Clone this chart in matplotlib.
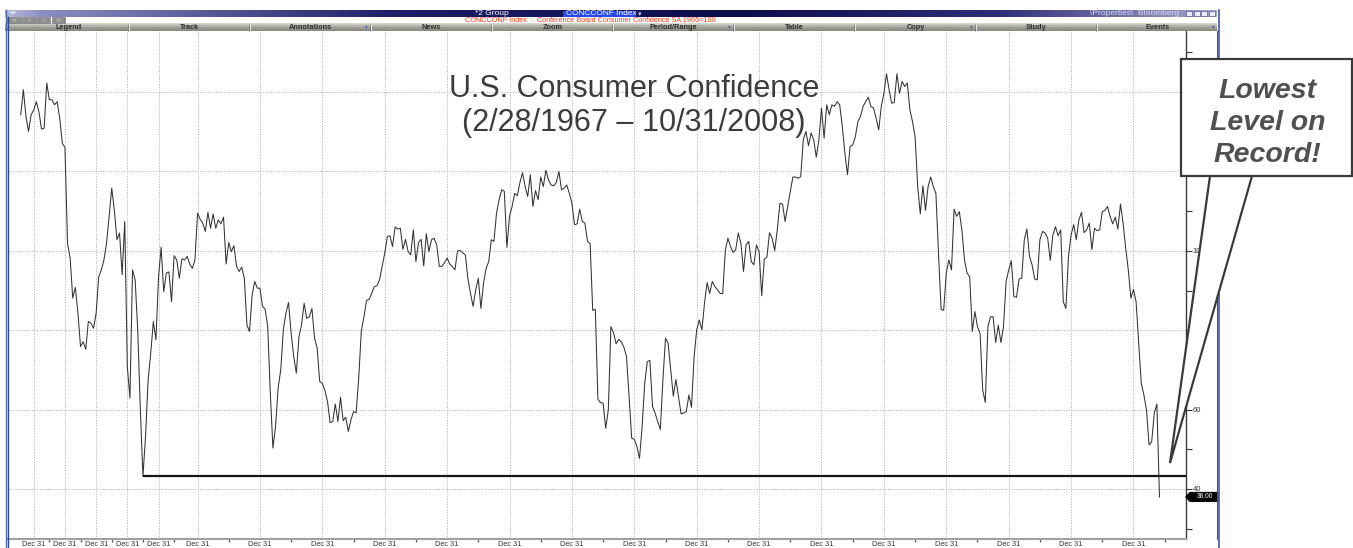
import numpy as np
import matplotlib
matplotlib.use("Agg")
import matplotlib.pyplot as plt
from matplotlib.patches import Rectangle, Polygon
from matplotlib.transforms import blended_transform_factory
from matplotlib.colors import LinearSegmentedColormap

plt.rcParams['font.family'] = ['Liberation Sans', 'DejaVu Sans']

# ---------------- text ----------------
title_line1 = "U.S. Consumer Confidence"
title_line2 = "(2/28/1967 \u2013 10/31/2008)"
header_text = "CONCCONF Index  :  Conference Board Consumer Confidence SA 1965=100"
group_text = "*2 Group"
ticker_text = "CONCCONF Index"
props_text = "\\Properties\\  Bloomberg"
toolbar_items = ["Legend", "Track", "Annotations", "News", "Zoom",
                 "Period/Range", "Table", "Copy", "Study", "Events"]
callout_lines = ["Lowest", "Level on", "Record!"]

# ---------------- data ----------------
# Bi-monthly readings, Feb 1967 - Apr 1977
bimonthly_1967_1977 = [
    134.3, 140.6, 133.9, 130.1, 134.3, 135.5, 137.6, 135.0, 130.7, 130.9,
    142.3, 138.1, 138.1, 136.8, 137.6, 133.4, 127.1, 126.1, 101.9, 98.2,
    88.1, 90.8, 84.3, 75.9, 77.1, 75.2, 82.2, 81.8, 80.5, 84.3,
    93.5, 95.2, 97.7, 101.9, 108.7, 115.8, 110.3, 102.8, 104.5, 94.0,
    107.4, 70.8, 62.9, 95.2, 92.7, 80.1, 59.9, 43.2, 53.2, 67.5,
    74.2, 82.2, 77.6, 93.5, 100.9, 89.7, 94.4, 94.7, 87.2, 98.8,
    97.7, 93.1]
# Monthly readings, Jun 1977 - Dec 1989
monthly_1977_1989 = [
    98.0, 97.7, 98.6, 96.7, 95.6, 97.7, 109.5, 108.0, 107.0, 104.9,
    109.7, 105.7, 109.3, 105.7, 107.8, 106.8, 108.5, 96.7, 102.1, 99.8,
    101.3, 96.1, 94.8, 95.9, 93.1, 81.3, 79.7, 88.9, 92.3, 90.6,
    90.6, 86.0, 85.3, 80.9, 64.1, 50.3, 55.7, 65.4, 70.0, 80.1,
    84.3, 87.0, 79.3, 73.4, 69.2, 78.3, 81.3, 86.8, 83.0, 83.4,
    85.5, 78.0, 75.5, 67.1, 66.6, 64.8, 62.0, 56.7, 57.0, 61.4,
    57.0, 63.1, 57.2, 58.1, 54.5, 57.4, 59.5, 59.2, 67.9, 79.9,
    83.3, 87.5, 87.8, 89.3, 91.0, 91.2, 92.7, 96.1, 99.4, 103.6,
    103.8, 101.1, 106.0, 105.5, 105.7, 100.4, 102.9, 99.8, 99.0, 105.3,
    97.3, 102.1, 102.9, 96.2, 104.3, 99.8, 102.8, 103.2, 101.5, 96.1,
    96.1, 97.0, 98.2, 96.7, 96.0, 95.2, 100.0, 100.1, 99.5, 99.0,
    93.0, 89.3, 86.0, 90.2, 93.1, 85.5, 91.8, 95.6, 97.3, 102.8,
    102.4, 109.5, 112.9, 115.4, 115.0, 100.9, 108.7, 111.2, 114.5, 113.9,
    117.2, 119.7, 116.2, 113.7, 119.2, 111.2, 115.2, 112.9, 118.6, 116.2,
    120.3, 117.9, 116.6, 116.4, 117.2, 120.0, 115.4, 115.8, 116.6, 114.5,
    112.0]
# Monthly readings, Jan 1990 - Dec 1999
monthly_1990_1999 = [
    106.6, 106.8, 110.5, 107.4, 107.0, 102.4, 101.9, 85.0, 85.3, 62.6,
    61.8, 61.6, 55.3, 59.9, 80.9, 79.4, 76.6, 77.7, 77.1, 75.7,
    73.4, 62.9, 52.8, 52.5, 50.7, 47.7, 55.7, 66.6, 72.1, 72.4,
    60.8, 59.1, 57.0, 55.0, 67.5, 78.0, 76.7, 70.0, 63.4, 67.6,
    63.3, 58.9, 59.2, 59.5, 63.7, 60.6, 73.4, 80.1, 82.6, 80.1,
    86.8, 92.0, 89.3, 92.3, 91.0, 90.2, 89.3, 89.2, 100.1, 103.2,
    101.1, 99.6, 100.3, 104.5, 101.9, 94.8, 101.5, 102.4, 97.3, 96.5,
    101.5, 99.8, 88.7, 97.9, 98.4, 104.6, 103.2, 100.1, 105.3, 112.0,
    111.8, 107.4, 111.2, 115.0, 118.6, 118.6, 118.3, 118.7, 128.0, 130.1,
    126.5, 129.7, 128.0, 123.6, 128.0, 136.0, 128.4, 136.8, 134.3, 136.8,
    136.4, 137.6, 136.8, 131.3, 124.6, 119.2, 126.3, 126.7, 128.7, 132.6,
    133.9, 136.4, 137.6, 138.7, 136.4, 136.0, 133.4, 130.5, 136.4, 139.7]
# Monthly readings, Jan 2000 - Oct 2008
monthly_2000_2008 = [
    144.6, 140.6, 137.2, 137.4, 144.6, 139.7, 142.7, 141.4, 142.3, 135.5,
    132.6, 128.8, 116.2, 109.3, 116.4, 110.2, 116.2, 118.6, 116.2, 114.5,
    99.4, 85.3, 85.0, 94.5, 97.7, 95.2, 110.5, 108.7, 109.9, 105.3,
    97.7, 94.4, 93.5, 79.7, 84.7, 80.9, 79.1, 65.0, 61.8, 80.9,
    83.4, 83.4, 76.9, 81.3, 76.9, 80.9, 92.3, 95.2, 97.5, 88.5,
    88.3, 92.9, 93.1, 102.8, 105.5, 98.6, 96.5, 92.9, 92.7, 102.8,
    104.9, 104.5, 103.2, 97.6, 104.0, 106.1, 103.8, 105.3, 87.2, 85.5,
    98.6, 104.0, 106.6, 102.8, 107.8, 109.7, 104.6, 105.3, 107.0, 100.3,
    105.7, 105.1, 105.3, 109.9, 110.2, 111.2, 108.7, 106.8, 108.5, 105.5,
    111.8, 107.0, 100.7, 95.2, 88.1, 90.3, 87.2, 76.7, 66.6, 63.7,
    59.9, 51.1, 51.9, 59.1, 61.4, 38.0]

values = np.array(bimonthly_1967_1977 + monthly_1977_1989 +
                  monthly_1990_1999 + monthly_2000_2008)

# observation dates (year, month) -- Bloomberg plots one slot per observation
dates = [(y, m) for y in range(1967, 1977) for m in range(2, 13, 2)]
dates += [(1977, 2), (1977, 4)]
dates += [(1977, m) for m in range(6, 13)]
dates += [(y, m) for y in range(1978, 2008) for m in range(1, 13)]
dates += [(2008, m) for m in range(1, 11)]
assert len(dates) == len(values)

label_years = list(range(1967, 2008, 2))
minor_years = list(range(1968, 2009, 2))


def slot_of(year, month=12):
    if (year, month) in dates:
        return dates.index((year, month))
    # beyond last observation: continue monthly spacing
    ly, lm = dates[-1]
    return len(dates) - 1 + (year - ly) * 12 + (month - lm)


major_pos = [slot_of(y) for y in label_years]
minor_pos = [slot_of(y) for y in minor_years]
major_labels = ["Dec 31\n%d" % y for y in label_years]

# ---------------- figure ----------------
W, H = 1353, 548
fig = plt.figure(figsize=(W / 100, H / 100), dpi=100)
fig.patch.set_facecolor('white')

ax = fig.add_axes([8 / W, (H - 539) / H, (1186 - 8) / W, (539 - 31) / H])
x = np.arange(len(values))
ax.plot(x, values, color='#333333', lw=0.75, zorder=3)
ax.set_xlim(-4.9, 448.2)
ax.set_ylim(27.4, 155.4)

# previous record low line
prev_low = int(np.argmin(values[:-1]))
ax.hlines(values[prev_low], prev_low, ax.get_xlim()[1], color='#151515',
          lw=1.6, zorder=4)

# axes / grid
ax.set_yticks(np.arange(40, 141, 20))
ax.set_yticks(np.arange(30, 151, 10), minor=True)
ax.yaxis.tick_right()
ax.set_yticklabels([str(v) for v in range(40, 141, 20)])
ax.tick_params(axis='y', which='both', direction='out', length=4, width=0.8,
               pad=1, labelsize=5.5, colors='#333333')

ax.set_xticks(major_pos)
ax.set_xticklabels(major_labels)
ax.set_xticks(minor_pos, minor=True)
ax.tick_params(axis='x', which='major', length=0, pad=1.2, labelsize=5.3,
               colors='#333333')
ax.tick_params(axis='x', which='minor', length=2.5, width=0.9,
               colors='#555555', direction='out')
for lab in ax.get_xticklabels():
    lab.set_linespacing(1.0)

ax.grid(True, which='major', axis='both', color='#b5b5b5',
        linestyle=(0, (1.2, 1.5)), lw=0.7, zorder=1)
ax.spines['top'].set_visible(False)
ax.spines['left'].set_visible(False)
ax.spines['bottom'].set_color('#a0a0a0')
ax.spines['bottom'].set_linewidth(1.5)
ax.spines['right'].set_color('#3a3a3a')
ax.spines['right'].set_linewidth(1.0)

# last value tag on the axis
trans = blended_transform_factory(ax.transAxes, ax.transData)
last = values[-1]
px = 1.0 / 1178.0
tag = Polygon([(1.0, last), (4 * px + 1.0, last + 1.1), (32 * px + 1.0, last + 1.1),
               (32 * px + 1.0, last - 1.1), (4 * px + 1.0, last - 1.1)],
              closed=True, transform=trans, fc='black', ec='black',
              clip_on=False, zorder=6)
ax.add_patch(tag)
ax.text(18.5 * px + 1.0, last, "%.2f" % last, transform=trans, color='white',
        fontsize=4.8, ha='center', va='center', clip_on=False, zorder=7)

# ---------------- overlay (window chrome, title, callout) ----------------
oax = fig.add_axes([0, 0, 1, 1], zorder=5)
oax.axis('off')

# title bar gradient
bar_cmap = LinearSegmentedColormap.from_list(
    'bar', [(0.0, '#b4b8d8'), (0.03, '#8a8ec0'), (0.32, '#1e1e68'),
            (0.6, '#0c0c4c'), (0.82, '#2e2e78'), (1.0, '#a4a4cc')])
grad = np.linspace(0, 1, 512).reshape(1, -1)
oax.imshow(grad, extent=[5, 1217, 17, 10], aspect='auto', cmap=bar_cmap,
           interpolation='bilinear', zorder=1)
oax.add_patch(Polygon([(9, 11.5), (17, 11.5), (13, 14.5)], closed=True,
                      fc='#e0e4f4', ec='none', zorder=2))
oax.text(475, 13.6, group_text, color='white', fontsize=6, ha='left',
         va='center', zorder=3)
oax.add_patch(Rectangle((563, 10.5), 73, 6, fc='#2a48f0', ec='none', zorder=2))
oax.text(566, 13.6, ticker_text, color='white', fontsize=6, ha='left',
         va='center', zorder=3)
oax.text(638, 13.6, "\u25be", color='#c8d0ff', fontsize=5, ha='left',
         va='center', zorder=3, family=['DejaVu Sans'])
oax.text(1090, 13.6, props_text, color='#dcdcf4', fontsize=6, ha='left',
         va='center', zorder=3)
for i, xi in enumerate([1186, 1193.5, 1201, 1208.5]):
    oax.add_patch(Rectangle((xi, 11.2), 6.2, 5.2, fc='#e8ecff', ec='#404080',
                            lw=0.4, zorder=3))

# button strip
oax.add_patch(Rectangle((5, 17), 1212, 6, fc='white', ec='none', zorder=1))
for (x0, x1), s in zip([(7, 22), (23, 36), (37, 50), (52, 65)],
                       ["<<", "<", ">", ">>"]):
    oax.add_patch(Rectangle((x0, 17.4), x1 - x0, 5.2, fc='#8e8e8e',
                            ec='#6a6a6a', lw=0.4, zorder=2))
    oax.text((x0 + x1) / 2, 20.1, s, color='#d8d8d8', fontsize=3.5,
             ha='center', va='center', zorder=3)
oax.text(590, 20.2, header_text, color='#ff3a10', fontsize=5.2, ha='center',
         va='center', zorder=3)

# toolbar
tb_cmap = LinearSegmentedColormap.from_list('tb', ['#dcdcd4', '#a4a49c', '#86867e'])
oax.imshow(np.linspace(0, 1, 64).reshape(-1, 1), extent=[5, 1217, 31, 23],
           aspect='auto', cmap=tb_cmap, interpolation='bilinear', zorder=1)
sec_w = (1218 - 8) / len(toolbar_items)
for i, name in enumerate(toolbar_items):
    xs = 8 + i * sec_w
    if i > 0:
        oax.plot([xs, xs], [23.5, 30.5], color='#eeeeea', lw=0.6, zorder=2)
        oax.plot([xs - 1, xs - 1], [23.5, 30.5], color='#70706a', lw=0.4, zorder=2)
    oax.text(xs + sec_w / 2, 27.2, name, color='#2c2c2c', fontsize=5.3,
             fontweight='bold', ha='center', va='center', zorder=3)
    if name in ("Annotations", "Period/Range", "Copy", "Events"):
        oax.text(xs + sec_w - 5, 26.8, "\u25be", color='#4060c0', fontsize=4,
                 ha='center', va='center', zorder=3, family=['DejaVu Sans'])

# window borders
oax.plot([6.2, 6.2], [10, 548], color='#4a68a8', lw=1.0, zorder=4)
oax.plot([7.8, 7.8], [17, 548], color='#2c4a8c', lw=1.0, zorder=4)
oax.plot([1217, 1217], [31, 539], color='#555555', lw=0.8, zorder=4)
oax.plot([1218.7, 1218.7], [10, 548], color='#3a5aa0', lw=1.2, zorder=4)

# chart title
oax.text(634, 97, title_line1, fontsize=22, color='#3c3c3c', ha='center',
         va='baseline', zorder=6)
oax.text(634, 131.5, title_line2, fontsize=22, color='#3c3c3c', ha='center',
         va='baseline', zorder=6)

# callout
oax.add_patch(Polygon([(1210, 176), (1170, 463), (1252, 176)], closed=True,
                      fc='white', ec='#3a3a3a', lw=1.6, joinstyle='miter',
                      zorder=7))
oax.add_patch(Rectangle((1181, 59), 171, 117, fc='white', ec='#3a3a3a',
                        lw=1.6, zorder=8))
for yb, line in zip([98.3, 130.0, 161.7], callout_lines):
    oax.text(1267.5, yb, line, fontsize=20.5, fontweight='bold',
             fontstyle='italic', color='#505050', ha='center', va='baseline',
             zorder=9)

oax.set_xlim(0, W)
oax.set_ylim(H, 0)

fig.savefig("out.png", dpi=100, facecolor='white')
